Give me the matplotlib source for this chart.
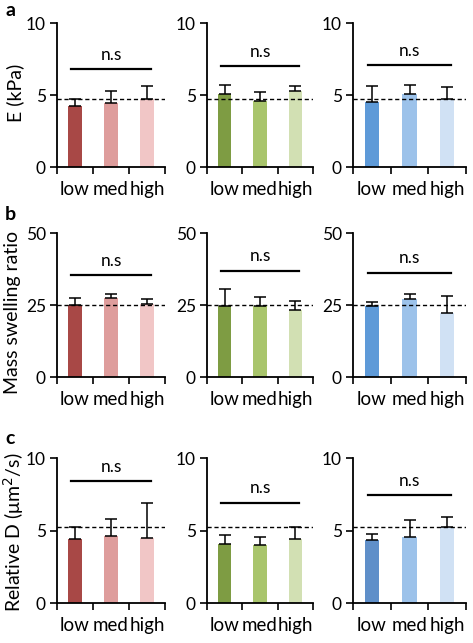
import numpy as np
import matplotlib.pyplot as plt

plt.rcParams['font.family'] = ['Lato', 'DejaVu Sans']

groups = ['low', 'med', 'high']

# row a: E (kPa)
E_mean = [[4.25, 4.42, 4.70], [5.04, 4.57, 5.27], [4.50, 5.07, 4.72]]
E_err = [[0.45, 0.88, 0.93], [0.63, 0.63, 0.35], [1.15, 0.65, 0.84]]
E_ref = [4.7, 4.73, 4.72]
E_bar = [6.8, 7.0, 7.08]

# row b: mass swelling ratio
M_mean = [[25.0, 27.3, 25.2], [24.8, 24.8, 23.4], [24.7, 27.0, 22.1]]
M_err = [[2.6, 1.4, 1.9], [5.9, 2.9, 2.9], [1.5, 1.7, 6.0]]
M_ref = [25.0, 25.1, 25.0]
M_bar = [35.4, 36.9, 36.2]

# row c: relative D
D_mean = [[4.41, 4.64, 4.48], [4.06, 4.02, 4.40], [4.33, 4.56, 5.24]]
D_err = [[0.83, 1.15, 2.42], [0.62, 0.55, 0.85], [0.43, 1.18, 0.68]]
D_ref = [5.24, 5.27, 5.24]
D_bar = [8.4, 6.9, 7.44]

colors = [['#A84846', '#DE9D9C', '#F1C6C6'],
          ['#7E9C43', '#A9C56C', '#D2E0B3'],
          ['#5E9AD8', '#9CC2EA', '#D0E1F4']]
colors_c = [['#A84846', '#DE9D9C', '#F1C6C6'],
            ['#7E9C43', '#A9C56C', '#D2E0B3'],
            ['#5F8FC9', '#9CC2EA', '#D0E1F4']]

rows = [
    (E_mean, E_err, E_ref, E_bar, 10, [0, 5, 10], 'E (kPa)', 'a', colors),
    (M_mean, M_err, M_ref, M_bar, 50, [0, 25, 50], 'Mass swelling ratio', 'b', colors),
    (D_mean, D_err, D_ref, D_bar, 10, [0, 5, 10], 'Relative D (μm$^2$/s)', 'c', colors_c),
]

W, H = 473, 643
fig = plt.figure(figsize=(W / 100, H / 100), dpi=100)

col_px = [(57, 108), (207, 106), (353, 113)]
row_px = [(23, 167), (233, 377), (458, 603)]
letter_y = [11, 214, 438]
# y label centre (x, y) in pixels and font size
ylab_pos = [(15, 93, 14), (12.5, 312, 14), (13.5, 532, 14)]

x = np.arange(3)
for r, (means, errs, refs, bars, ymax, yt, ylab, letter, cols) in enumerate(rows):
    top, bot = row_px[r]
    for c in range(3):
        left, wid = col_px[c]
        ax = fig.add_axes([left / W, 1 - bot / H, wid / W, (bot - top) / H])
        ax.bar(x, means[c], width=0.38, color=cols[c], zorder=2)
        ax.errorbar(x, means[c], yerr=[np.zeros(3), errs[c]], fmt='none',
                    ecolor='black', elinewidth=1.1, capsize=4, capthick=1.1, zorder=3)
        ax.axhline(refs[c], color='black', linestyle=(0, (3, 2)), linewidth=1.0, zorder=4)
        ax.plot([-0.1, 2.1], [bars[c], bars[c]], color='black', linewidth=1.6)
        ax.text(1, bars[c] + ymax * 0.045, 'n.s', ha='center', va='bottom', fontsize=12.5)
        ax.set_xlim(-0.5, 2.5)
        ax.set_ylim(0, ymax)
        ax.set_yticks(yt)
        ax.set_xticks([-0.5, 0.5, 1.5, 2.5])
        ax.set_xticklabels([])
        ax.set_xticks(x, minor=True)
        ax.set_xticklabels(groups, minor=True)
        ax.tick_params(axis='x', which='minor', length=0, pad=10, labelsize=13.5)
        ax.tick_params(axis='x', which='major', direction='out', length=5, width=1.2)
        ax.tick_params(axis='y', direction='out', length=5, width=1.2, labelsize=12.5, pad=3)
        for s in ['top', 'right']:
            ax.spines[s].set_visible(False)
        for s in ['left', 'bottom']:
            ax.spines[s].set_linewidth(1.3)
    lx, ly, lfs = ylab_pos[r]
    fig.text(lx / W, 1 - ly / H, ylab, rotation=90, fontsize=lfs,
             ha='center', va='center')
    fig.text(5 / W, 1 - letter_y[r] / H, letter, fontsize=14, fontweight='bold',
             ha='left', va='center')

fig.savefig('out.png', dpi=100)
